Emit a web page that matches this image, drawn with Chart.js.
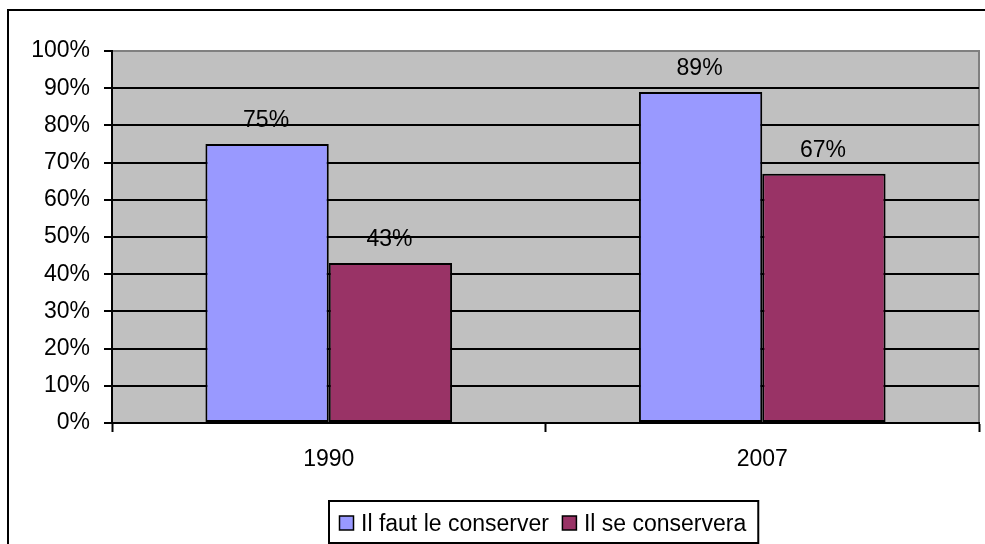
<!DOCTYPE html>
<html>
<head>
<meta charset="utf-8">
<script src="https://cdn.jsdelivr.net/npm/chart.js@4/dist/chart.umd.min.js"></script>
<style>
  html, body { margin: 0; padding: 0; background: #fff; }
  canvas { display: block; }
</style>
</head>
<body>
<canvas id="chart" width="985" height="544"></canvas>
<script>
// Survey years on the category axis
const years = ['1990', '2007'];
// Series names shown in the legend
const seriesNames = ['Il faut le conserver', 'Il se conservera'];
// Share of answers, in percent
const faut = [75, 89];
const conservera = [43, 67];
// Value axis range and step
const yMin = 0;
const yMax = 100;
const yStep = 10;

const FONT = "'Liberation Sans', Arial, sans-serif";
const FONT_SIZE = 23;
const colours = ['#9999FF', '#993366'];

// Grey plot area, its border and the outer chart frame
const backdrop = {
  id: 'backdrop',
  beforeDraw(chart) {
    const { ctx, chartArea: a } = chart;
    ctx.save();
    ctx.fillStyle = '#ffffff';
    ctx.fillRect(0, 0, chart.width, chart.height);
    ctx.fillStyle = '#C0C0C0';
    ctx.fillRect(a.left, a.top, a.right - a.left, a.bottom - a.top);
    ctx.strokeStyle = '#808080';
    ctx.lineWidth = 2;
    ctx.strokeRect(a.left, a.top, a.right - a.left, a.bottom - a.top);
    ctx.restore();
  },
  afterDraw(chart) {
    const { ctx } = chart;
    ctx.save();
    ctx.strokeStyle = '#000';
    ctx.lineWidth = 2;
    ctx.strokeRect(8, 10, chart.width + 20, chart.height + 20);
    ctx.restore();
  }
};

// Percentage written above each bar
const valueLabels = {
  id: 'valueLabels',
  afterDatasetsDraw(chart) {
    const { ctx } = chart;
    ctx.save();
    ctx.font = FONT_SIZE + 'px ' + FONT;
    ctx.fillStyle = '#000';
    ctx.textAlign = 'center';
    ctx.textBaseline = 'alphabetic';
    chart.data.datasets.forEach((ds, i) => {
      chart.getDatasetMeta(i).data.forEach((bar, j) => {
        ctx.fillText(ds.data[j] + '%', bar.x - 1, bar.y - 17);
      });
    });
    ctx.restore();
  }
};

// Boxed legend under the category labels
const boxedLegend = {
  id: 'boxedLegend',
  afterDraw(chart) {
    const { ctx, chartArea: a } = chart;
    const sets = chart.data.datasets;
    ctx.save();
    ctx.font = FONT_SIZE + 'px ' + FONT;
    const sq = 14, gapSqText = 8, gapItems = 13, padL = 10, padR = 12;
    const widths = sets.map(d => ctx.measureText(d.label).width);
    let total = padL + padR;
    widths.forEach((w, i) => { total += sq + gapSqText + w + (i < widths.length - 1 ? gapItems : 0); });
    const boxH = 42;
    const boxBottom = chart.height - 1;
    const boxTop = boxBottom - boxH;
    const cx = (a.left + a.right) / 2 - 2;
    const boxLeft = Math.round(cx - total / 2);
    ctx.strokeStyle = '#000';
    ctx.lineWidth = 2;
    ctx.strokeRect(boxLeft, boxTop, total, boxH);
    const midY = boxTop + 22;
    let x = boxLeft + padL;
    ctx.textAlign = 'left';
    ctx.textBaseline = 'alphabetic';
    sets.forEach((d, i) => {
      ctx.fillStyle = d.backgroundColor;
      ctx.fillRect(x + 0.5, midY - sq / 2, sq, sq);
      ctx.lineWidth = 1.5;
      ctx.strokeStyle = '#000';
      ctx.strokeRect(x + 0.5, midY - sq / 2, sq, sq);
      x += sq + gapSqText;
      ctx.fillStyle = '#000';
      ctx.fillText(d.label, x, midY + 8);
      x += widths[i] + gapItems;
    });
    ctx.restore();
  }
};

Chart.defaults.font.family = FONT;
Chart.defaults.font.size = FONT_SIZE;
Chart.defaults.color = '#000';

new Chart(document.getElementById('chart'), {
  type: 'bar',
  data: {
    labels: years,
    datasets: [
      { label: seriesNames[0], data: faut, backgroundColor: colours[0] },
      { label: seriesNames[1], data: conservera, backgroundColor: colours[1] }
    ]
  },
  options: {
    responsive: false,
    devicePixelRatio: 1,
    animation: false,
    layout: { padding: { left: 0, right: 6, top: 51, bottom: 0 } },
    datasets: {
      bar: {
        categoryPercentage: 0.569,
        barPercentage: 1.0,
        borderColor: '#000',
        borderWidth: 2,
        borderSkipped: false
      }
    },
    plugins: {
      legend: { display: false },
      tooltip: { enabled: false }
    },
    scales: {
      x: {
        offset: true,
        grid: {
          offset: true,
          drawOnChartArea: false,
          drawTicks: true,
          tickLength: 9,
          tickWidth: 2,
          tickColor: '#000'
        },
        border: { display: true, color: '#000', width: 2 },
        ticks: { padding: 14, font: { size: FONT_SIZE }, color: '#000' },
        afterFit(scale) { scale.height = 121; }
      },
      y: {
        min: yMin,
        max: yMax,
        grid: {
          color: c => (c.tick && c.tick.value === yMax ? '#808080' : '#000'),
          lineWidth: 2,
          tickLength: 8,
          tickWidth: 2,
          tickColor: '#000'
        },
        border: { display: true, color: '#000', width: 2 },
        ticks: {
          stepSize: yStep,
          padding: 14,
          font: { size: FONT_SIZE },
          color: '#000',
          callback: v => v + '%'
        },
        afterFit(scale) { scale.width = 112; }
      }
    }
  },
  plugins: [backdrop, valueLabels, boxedLegend]
});
</script>
</body>
</html>
